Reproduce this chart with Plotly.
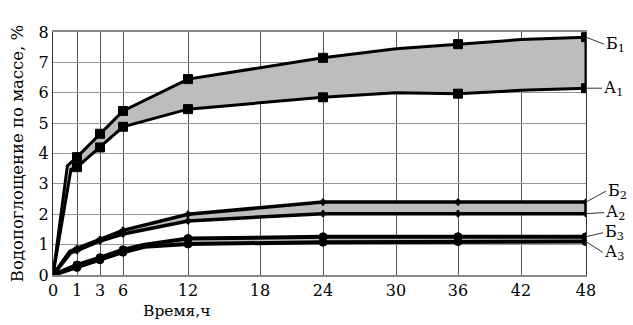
import numpy as np
import plotly.graph_objects as go

# ---- data ----
tick_hours = [0, 1, 3, 6, 12, 18, 24, 30, 36, 42, 48]
tick_labels = ["0", "1", "3", "6", "12", "18", "24", "30", "36", "42", "48"]
# non-uniform axis scale (positions of the hour ticks along the axis)
tick_pos = [0, 24, 47, 70, 135, 207, 270, 343, 405, 468, 533]

b1_h = [0, 0.6, 1, 3, 6, 12, 24, 30, 36, 42, 48]
b1_v = [0, 3.6, 3.88, 4.65, 5.4, 6.45, 7.15, 7.45, 7.6, 7.75, 7.83]
b1_m = [0, 0, 1, 1, 1, 1, 1, 0, 1, 0, 1]

a1_h = [0, 0.75, 1, 3, 6, 12, 24, 30, 36, 42, 48]
a1_v = [0, 3.48, 3.55, 4.2, 4.88, 5.46, 5.85, 6.0, 5.97, 6.08, 6.15]
a1_m = [0, 0, 1, 1, 1, 1, 1, 0, 1, 0, 1]

b2_h = [0, 0.7, 1, 3, 6, 12, 24, 36, 48]
b2_v = [0, 0.78, 0.88, 1.17, 1.47, 2.0, 2.4, 2.4, 2.4]
b2_m = [0, 0, 1, 1, 1, 1, 1, 1, 1]

a2_h = [0, 0.75, 1, 3, 6, 12, 24, 36, 48]
a2_v = [0, 0.74, 0.8, 1.12, 1.35, 1.78, 2.02, 2.02, 2.02]
a2_m = [0, 0, 1, 1, 1, 1, 1, 1, 1]

b3_h = [0, 1, 3, 6, 8, 12, 24, 36, 48]
b3_v = [0, 0.33, 0.57, 0.83, 1.0, 1.2, 1.26, 1.26, 1.26]
b3_m = [0, 1, 1, 1, 0, 1, 1, 1, 1]

a3_h = [0, 1, 3, 6, 8, 12, 24, 36, 48]
a3_v = [0, 0.25, 0.5, 0.75, 0.93, 1.02, 1.08, 1.1, 1.1]
a3_m = [0, 1, 1, 1, 0, 1, 1, 1, 1]

labels = ["Б<sub>1</sub>", "А<sub>1</sub>", "Б<sub>2</sub>", "А<sub>2</sub>", "Б<sub>3</sub>", "А<sub>3</sub>"]
label_off = [(18, 7), (16, 0), (20, -11), (18, -1), (17, -4), (17, 11)]

x_title = "Время,ч"
y_title = "Водопоглощение по массе, %"


def pos(h):
    return np.interp(h, tick_hours, tick_pos)


FONT = "DejaVu Serif"
FILL = "#bdbdbd"

fig = go.Figure()

groups = [
    (a1_h, a1_v, a1_m, b1_h, b1_v, b1_m, "square", 9, 3),
    (a2_h, a2_v, a2_m, b2_h, b2_v, b2_m, "cross", 5, 3.5),
    (a3_h, a3_v, a3_m, b3_h, b3_v, b3_m, "circle", 8, 4),
]

for ah, av, am, bh, bv, bm, sym, ms, lw in groups:
    fig.add_trace(go.Scatter(
        x=pos(ah), y=av, mode="lines", line=dict(color="black", width=lw),
        hoverinfo="skip", showlegend=False))
    fig.add_trace(go.Scatter(
        x=pos(bh), y=bv, mode="lines", line=dict(color="black", width=lw),
        fill="tonexty", fillcolor=FILL, hoverinfo="skip", showlegend=False))
    # closing edge at the last point
    fig.add_trace(go.Scatter(
        x=pos([ah[-1], bh[-1]]), y=[av[-1], bv[-1]], mode="lines",
        line=dict(color="black", width=lw), showlegend=False, hoverinfo="skip"))
    for hh, vv, mm in ((ah, av, am), (bh, bv, bm)):
        sel = [i for i, m in enumerate(mm) if m]
        fig.add_trace(go.Scatter(
            x=pos([hh[i] for i in sel]), y=[vv[i] for i in sel], mode="markers",
            marker=dict(symbol=sym, size=ms, color="black",
                        line=dict(color="black", width=1)),
            showlegend=False))

ends = [(b1_h, b1_v), (a1_h, a1_v), (b2_h, b2_v), (a2_h, a2_v), (b3_h, b3_v), (a3_h, a3_v)]
for (hh, vv), txt, (ax, ay) in zip(ends, labels, label_off):
    fig.add_annotation(
        x=pos(hh[-1]), y=vv[-1], text=txt, showarrow=True, arrowhead=0,
        arrowwidth=0.8, arrowcolor="black", ax=ax, ay=ay, xanchor="left",
        standoff=1, font=dict(family=FONT, size=16, color="black"))

# x-axis title, placed left of centre as in the original
fig.add_annotation(
    x=0.233, y=-0.148, xref="paper", yref="paper", text=x_title, showarrow=False,
    xanchor="center", yanchor="middle", font=dict(family=FONT, size=15.5, color="black"))

fig.update_layout(
    width=633, height=325,
    margin=dict(l=53, r=47, t=32, b=50),
    paper_bgcolor="white", plot_bgcolor="white",
    font=dict(family=FONT, size=16, color="black"),
    xaxis=dict(
        range=[0, 533], tickmode="array", tickvals=pos(tick_hours), ticktext=tick_labels,
        showgrid=True, gridcolor="#555555", gridwidth=1, zeroline=False,
        showline=True, linecolor="#888888", linewidth=1.5, mirror=True,
        ticks="", tickfont=dict(family=FONT, size=16),
    ),
    yaxis=dict(
        range=[0, 8], dtick=1, showgrid=True, gridcolor="#999999", gridwidth=1,
        zeroline=False, showline=True, linecolor="#333333", linewidth=1, mirror=True,
        ticks="", tickfont=dict(family=FONT, size=16),
        title=dict(text=y_title, font=dict(family=FONT, size=16.5), standoff=10),
    ),
)

fig.write_html("out.html")
